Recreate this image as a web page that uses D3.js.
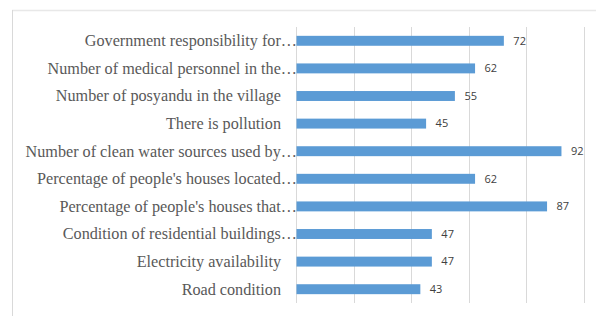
<!DOCTYPE html>
<html><head><meta charset="utf-8">
<script src="https://cdn.jsdelivr.net/npm/d3@7"></script>
<style>body{margin:0;background:#fff}svg{display:block}</style>
</head><body><svg id="c" width="596" height="316"></svg>
<script>
const categories = [
  "Government responsibility for…",
  "Number of medical personnel in the…",
  "Number of posyandu in the village",
  "There is pollution",
  "Number of clean water sources used by…",
  "Percentage of people's houses located…",
  "Percentage of people's houses that…",
  "Condition of residential buildings…",
  "Electricity availability",
  "Road condition"
];
const values = [72, 62, 55, 45, 92, 62, 87, 47, 47, 43];
const xTicks = [0, 20, 40, 60, 80, 100];

const svg = d3.select("#c");
// outer frame
svg.append("line").attr("x1",12).attr("x2",596).attr("y1",10.5).attr("y2",10.5).attr("stroke","#e8e8e8").attr("stroke-width",1.5);
svg.append("line").attr("x1",12.5).attr("x2",12.5).attr("y1",10).attr("y2",316).attr("stroke","#d9d9d9");

const x = d3.scaleLinear().domain([0,100]).range([296,584]);
const y = d3.scaleBand().domain(categories).range([27,303]).paddingInner(0.64).paddingOuter(0.32);

// gridlines
svg.append("g").selectAll("line").data(xTicks).join("line")
  .attr("x1",d=>Math.round(x(d))+0.5).attr("x2",d=>Math.round(x(d))+0.5)
  .attr("y1",27).attr("y2",303).attr("stroke","#d9d9d9");

// bars
svg.append("g").selectAll("rect").data(values).join("rect")
  .attr("x",x(0)+0.5).attr("y",(d,i)=>y(categories[i]))
  .attr("width",d=>x(d)-x(0)).attr("height",y.bandwidth())
  .attr("fill","#5b9bd5");

// value labels
svg.append("g").selectAll("text").data(values).join("text")
  .attr("x",d=>x(d)+10).attr("y",(d,i)=>y(categories[i])+y.bandwidth()/2)
  .attr("dy","0.35em").attr("font-family","'Open Sans', sans-serif").attr("font-size",11)
  .attr("fill","#404040").text(d=>d);

// category labels
svg.append("g").selectAll("text").data(categories).join("text")
  .attr("x",d=>d.endsWith("…")?297:281)
  .attr("y",d=>y(d)+y.bandwidth()/2)
  .attr("dy","0.33em").attr("text-anchor","end")
  .attr("font-family","'Liberation Serif', 'Times New Roman', serif").attr("font-size",16.2)
  .attr("fill","#595959").text(d=>d);
</script></body></html>
